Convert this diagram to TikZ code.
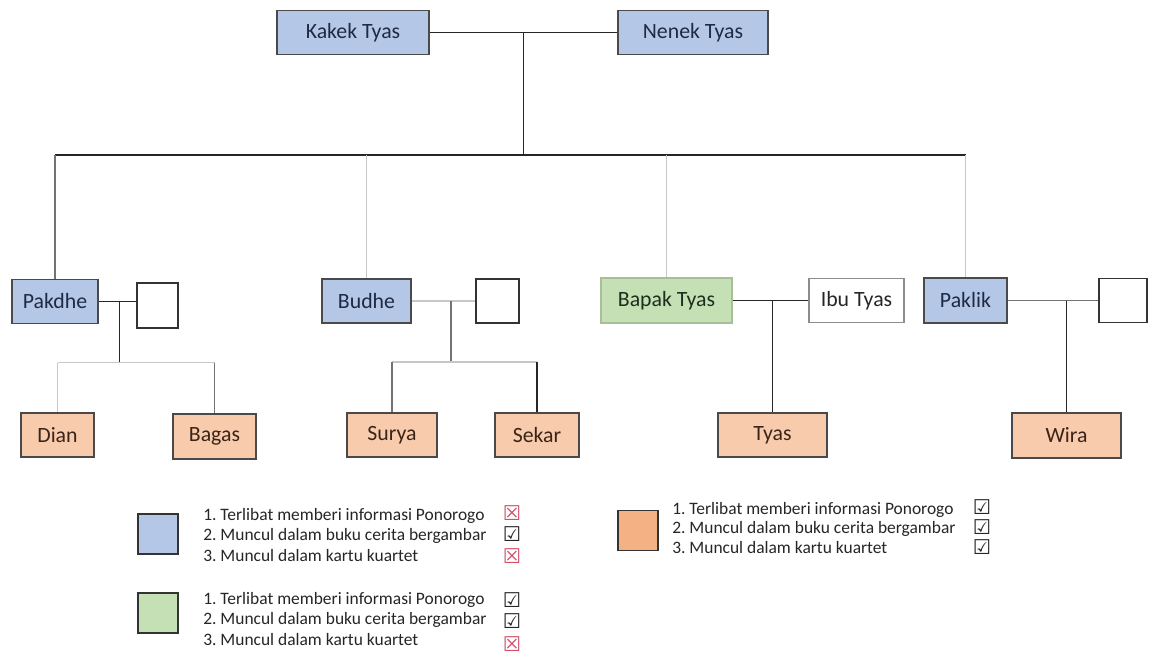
\documentclass[tikz,border=0pt]{standalone}
\usepackage{fontspec}
\setmainfont{Carlito}
\newfontfamily\symfont{DejaVu Sans}
\usetikzlibrary{calc}
\frenchspacing
\newcommand{\pxu}{0.025cm}
\newcommand{\boxcheck}{{\symfont ☑}}
\newcommand{\boxcross}{{\symfont\color{crossred}☒}}
\definecolor{famblue}{HTML}{B4C7E7}
\definecolor{famgreen}{HTML}{C5E0B4}
\definecolor{famorange}{HTML}{F8CBAD}
\definecolor{keyorange}{HTML}{F4B183}
\definecolor{boxline}{HTML}{4A4A4A}
\definecolor{bluetext}{HTML}{1F2A44}
\definecolor{greentext}{HTML}{1E2E1E}
\definecolor{orangetext}{HTML}{3A2418}
\definecolor{crossred}{HTML}{D0506A}

\begin{document}
\begin{tikzpicture}[x=\pxu, y=-\pxu]
    %
    % `person' is the base box, the others colour it by role.
    % `strong', `mid' and `faint' are the three line greys.
    \tikzstyle{person} = [draw=boxline, line width=1pt, inner sep=0pt, minimum height=44*\pxu, font=\fontsize{15.5}{18}\selectfont]
    \tikzstyle{elder} = [person, fill=famblue, text=bluetext]
    \tikzstyle{parent} = [person, fill=famgreen, draw=famgreen!85!black, text=greentext]
    \tikzstyle{child} = [person, fill=famorange, text=orangetext]
    \tikzstyle{spouse} = [person, fill=white, draw=black!80]
    \tikzstyle{strong} = [draw=black!85, line width=1.1pt]
    \tikzstyle{mid} = [draw=black!55, line width=1.1pt]
    \tikzstyle{faint} = [draw=black!22, line width=1pt]
    \tikzstyle{swatch} = [draw=black!80, line width=1pt, inner sep=0pt, minimum width=40*\pxu, minimum height=40*\pxu]
    \tikzstyle{legend} = [anchor=west, align=left, inner sep=0pt, text=black!85, font=\fontsize{12.4}{14.9}\selectfont]
    \tikzstyle{tickbox} = [inner sep=0pt, text height=10pt, text depth=0pt, font=\fontsize{14.5}{14.5}\selectfont, text=black!85]
    %
    \fill[white] (0,0) rectangle (1150,659);
    \useasboundingbox (0,0) rectangle (1150,659);
    %
    % Grandparents
    \node[elder, minimum width=152*\pxu] (kakek) at (353,32.5) {Kakek Tyas};
    \node[elder, minimum width=150*\pxu] (nenek) at (693,32.5) {Nenek Tyas};
    %
    % Parents and their spouses
    \node[elder, minimum width=86*\pxu] (pakdhe) at (55,301.5) {Pakdhe};
    \node[spouse, minimum width=41*\pxu, minimum height=45*\pxu] (sp1) at (157.5,305.5) {};
    \node[elder, minimum width=89*\pxu] (budhe) at (366.5,301) {Budhe};
    \node[spouse, minimum width=43*\pxu] (sp2) at (497.5,301) {};
    \node[parent, minimum width=131*\pxu, minimum height=45*\pxu] (bapak) at (666.5,300.5) {Bapak Tyas};
    \node[spouse, minimum width=95*\pxu, draw=black!45, text=black!85] (ibu) at (856.5,300.5) {Ibu Tyas};
    \node[elder, minimum width=83*\pxu, minimum height=45*\pxu] (paklik) at (965.5,300.5) {Paklik};
    \node[spouse, minimum width=48*\pxu] (sp4) at (1123,300.5) {};
    %
    % Grandchildren
    \node[child, minimum width=73*\pxu] (dian) at (57.5,435) {Dian};
    \node[child, minimum width=83*\pxu, minimum height=45*\pxu] (bagas) at (214.5,436.5) {Bagas};
    \node[child, minimum width=90*\pxu] (surya) at (392,435) {Surya};
    \node[child, minimum width=84*\pxu] (sekar) at (537,435) {Sekar};
    \node[child, minimum width=109*\pxu] (tyas) at (772.5,435) {Tyas};
    \node[child, minimum width=109*\pxu, minimum height=45*\pxu] (wira) at (1066.5,435.5) {Wira};
    %
    % Grandparents to parents
    \draw[strong] (kakek) -- (nenek);
    \coordinate (gp) at ($(kakek.east)!.5!(nenek.west)$);
    \coordinate (bar) at ($(gp)+(0,122.5)$);
    \draw[strong] (gp) -- (bar);
    \draw[strong] (pakdhe.north |- bar) -- (paklik.north |- bar);
    \draw[mid] (pakdhe.north |- bar) -- (pakdhe);
    \draw[faint] (budhe.north |- bar) -- (budhe);
    \draw[faint] (bapak.north |- bar) -- (bapak);
    \draw[faint] (paklik.north |- bar) -- (paklik);
    %
    % Pakdhe
    \draw[strong] (pakdhe.east) -- (pakdhe.east -| sp1.west);
    \coordinate (pk) at ($(pakdhe.east)!.55!(pakdhe.east -| sp1.west)$);
    \coordinate (pkbar) at ($(pk)+(0,61)$);
    \draw[strong] (pk) -- (pkbar);
    \draw[faint] (dian.north |- pkbar) -- (bagas.north |- pkbar);
    \draw[faint] (dian.north |- pkbar) -- (dian);
    \draw[mid] (bagas.north |- pkbar) -- (bagas);
    %
    % Budhe
    \draw[faint] (budhe.east) -- (budhe.east -| sp2.west);
    \coordinate (bd) at ($(budhe.east)!.62!(budhe.east -| sp2.west)$);
    \coordinate (bdbar) at ($(bd)+(0,61)$);
    \draw[mid] (bd) -- (bdbar);
    \draw[faint] (surya.north |- bdbar) -- (sekar.north |- bdbar);
    \draw[mid] (surya.north |- bdbar) -- (surya);
    \draw[strong] (sekar.north |- bdbar) -- (sekar);
    %
    % Bapak Tyas
    \draw[strong] (bapak) -- (ibu);
    \draw[strong] (tyas.north |- bapak) -- (tyas);
    %
    % Paklik
    \draw[mid] (paklik) -- (sp4);
    \draw[strong] (wira.north |- paklik) -- (wira);
    %
    % Legend
    \node[swatch, fill=famblue] (keyblue) at (158,534) {};
    \node[legend] (txtblue) at (203,535) {1. Terlibat memberi informasi Ponorogo\\2. Muncul dalam buku cerita bergambar\\3. Muncul dalam kartu kuartet};
    \node[tickbox] (b1) at (512,513) {\boxcross};
    \node[tickbox] (b2) at (512,534) {\boxcheck};
    \node[tickbox] (b3) at (512,556) {\boxcross};
    %
    \node[swatch, fill=famgreen] (keygreen) at (158,613) {};
    \node[legend] (txtgreen) at (203,619) {1. Terlibat memberi informasi Ponorogo\\2. Muncul dalam buku cerita bergambar\\3. Muncul dalam kartu kuartet};
    \node[tickbox] (g1) at (512,600) {\boxcheck};
    \node[tickbox] (g2) at (512,621) {\boxcheck};
    \node[tickbox] (g3) at (512,644) {\boxcross};
    %
    \node[swatch, fill=keyorange] (keyorange) at (638,530.5) {};
    \node[legend, font=\fontsize{12.4}{14}\selectfont] (txtorange) at (672,528) {1. Terlibat memberi informasi Ponorogo\\2. Muncul dalam buku cerita bergambar\\3. Muncul dalam kartu kuartet};
    \node[tickbox] (o1) at (982,507) {\boxcheck};
    \node[tickbox] (o2) at (982,527) {\boxcheck};
    \node[tickbox] (o3) at (982,547) {\boxcheck};
    %
\end{tikzpicture}
\end{document}
